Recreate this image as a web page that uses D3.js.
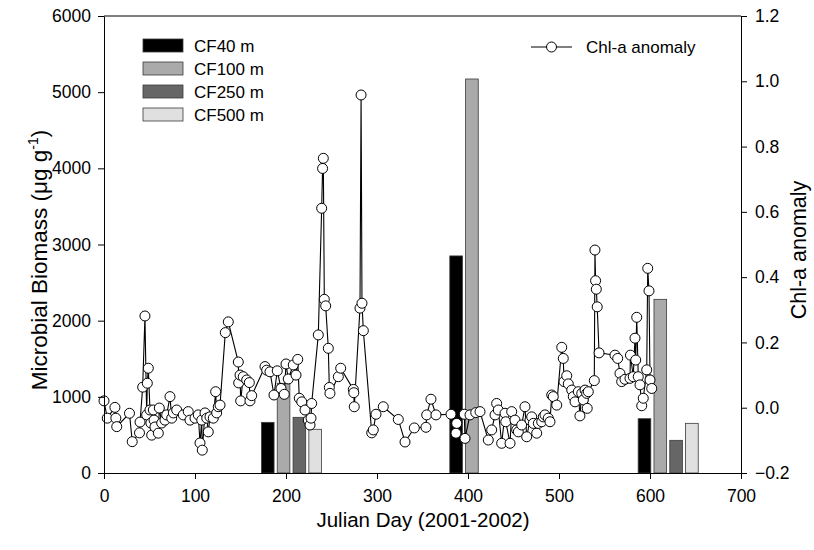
<!DOCTYPE html>
<html>
<head>
<meta charset="utf-8">
<script src="https://cdn.jsdelivr.net/npm/d3@7"></script>
<style>
  html, body { margin: 0; padding: 0; background: #fff; }
  svg { display: block; font-family: Arial, "Liberation Sans", sans-serif; }
</style>
</head>
<body>
<svg id="chart" width="814" height="550"></svg>
<script>
// ---------- data ----------
const xTicks = [0, 100, 200, 300, 400, 500, 600, 700];
const leftTicks = [0, 1000, 2000, 3000, 4000, 5000, 6000];
const rightTicks = [-0.2, 0.0, 0.2, 0.4, 0.6, 0.8, 1.0, 1.2];

const barSeries = ["CF40 m", "CF100 m", "CF250 m", "CF500 m"];
const barColors = ["#000000", "#aaaaaa", "#666666", "#e0e0e0"];
const groupDays = [206, 413, 620];           // centre day of each sampling group
const groupSpanDays = 66;                     // width of a group in days
const cf40 = [665, 2850, 713];
const cf100 = [1178, 5173, 2280];
const cf250 = [731, null, 429];
const cf500 = [574, null, 652];

const chlDays = [
  0, 3.6, 12, 13, 14, 28, 31, 39, 39.6, 42.5, 45, 46.9, 47.6, 48.7, 50.5, 51.5, 52.4, 54.2, 55, 56,
  59.7, 60.8, 63.4, 67, 68.9, 72.5, 74.4, 76.2, 79.9, 87.1, 92.6, 94.5, 100, 103.6, 105.5, 107.4, 108,
  111, 112.9, 114.6, 116.5, 120.1, 122.7, 123.8, 125.6, 127.5, 133.3, 136.6, 147.6, 148, 149.5, 150.2,
  153, 156.8, 159.7, 160.4, 162.3,
  176.9, 178.8, 182.4, 186.8, 190.4, 194.5, 198.1, 200, 202.5, 208, 211, 212.9, 214.6, 217.3, 220.9,
  224.5, 226.4, 227.5, 228.2, 235.5, 239.2, 240.2, 241, 242.1, 243.6, 246.5, 247.6, 248.3, 257.5, 260.1,
  274, 274.5, 275, 281.3, 282.5, 283.5, 285, 294.2, 295.9, 298.9, 306.9, 323.4, 330.8, 341,
  353.8, 354.6, 359.3, 364.8, 381.3, 386.8, 387.6, 395.9, 396.7, 402.2, 408.5, 413.2, 422.3, 426, 429.7,
  431.5, 433.3, 437, 440.7, 441.5, 446.2, 448, 451.6, 453.5, 455.3, 459, 462.6, 464.5, 468.1, 470,
  471.8, 475.5, 477.3, 481, 482.7, 484.6, 488.2, 490.1, 492, 493.7, 497.5, 503, 504.7, 505.5, 508.5,
  510.2, 514, 515.7, 517.6, 521.2, 523, 525, 526.7, 528.6, 530.4, 531, 532.2, 538.8, 539.5, 540.2,
  541, 542, 544,
  561.5, 564.5, 567, 568.9, 572.5, 578, 578.5, 581.6, 583.5, 584.3, 585.4, 587.1, 589, 590.9, 592.6,
  596.4, 597.5, 598.9, 600, 601.9
];
const chlValues = [
  0.021, -0.032, 0.001, -0.032, -0.058, -0.017, -0.104, -0.077, -0.044, 0.063, 0.281, -0.022, 0.075, 0.121, -0.007, -0.047, -0.084, -0.007, -0.038, -0.059,
  -0.078, -0.001, -0.047, -0.038, -0.022, 0.034, -0.032, -0.016, -0.007, -0.022, -0.012, -0.038, -0.032, -0.022, -0.108, -0.038, -0.130,
  -0.016, -0.032, -0.074, -0.028, -0.032, 0.049, -0.016, 0.003, 0.008, 0.230, 0.263, 0.140, 0.076, 0.100, 0.021,
  0.095, 0.085, 0.077, 0.021, 0.037,
  0.126, 0.115, 0.110, 0.039, 0.113, 0.059, 0.041, 0.134, 0.088, 0.131, 0.100, 0.148, 0.029, 0.018, -0.007,
  -0.038, -0.053, -0.032, 0.013, 0.223, 0.611, 0.733, 0.764, 0.332, 0.312, 0.182, 0.062, 0.044, 0.095, 0.121,
  0.056, 0.046, 0.003, 0.305, 0.958, 0.320, 0.236, -0.077, -0.068, -0.020, 0.003, -0.036, -0.105, -0.062,
  -0.060, -0.022, 0.026, -0.022, -0.020, -0.078, -0.048, -0.020, -0.094, -0.022, -0.015, -0.012, -0.099, -0.068, -0.022,
  0.013, -0.007, -0.109, -0.017, -0.043, -0.109, -0.012, -0.038, -0.068, -0.074, -0.053, 0.003, -0.089, -0.038, -0.028,
  -0.048, -0.078, -0.048, -0.043, -0.028, -0.022, -0.032, -0.043, 0.039, 0.034, 0.008, 0.185, 0.151, 0.080, 0.098,
  0.073, 0.054, 0.034, 0.018, 0.049, -0.025, 0.044, 0.024, 0.054, 0.044, -0.002, 0.049, 0.083, 0.483, 0.389,
  0.363, 0.309, 0.168,
  0.161, 0.151, 0.105, 0.080, 0.087, 0.090, 0.161, 0.095, 0.213, 0.146, 0.277, 0.095, 0.070, 0.006, 0.029,
  0.116, 0.427, 0.358, 0.085, 0.059
];

// ---------- layout ----------
const svg = d3.select("#chart");
const margin = { left: 104, top: 16, right: 73, bottom: 77 };
const W = 814 - margin.left - margin.right;
const H = 550 - margin.top - margin.bottom;
const g = svg.append("g").attr("transform", `translate(${margin.left},${margin.top})`);

const x = d3.scaleLinear().domain([0, 700]).range([0, W]);
const yL = d3.scaleLinear().domain([0, 6000]).range([H, 0]);
const yR = d3.scaleLinear().domain([-0.2, 1.2]).range([H, 0]);

// frame top line
g.append("line").attr("x1", 0).attr("x2", W).attr("y1", 0).attr("y2", 0)
  .attr("stroke", "#000").attr("stroke-width", 1);

// ---------- bars ----------
const barTable = [cf40, cf100, cf250, cf500];
const inner = d3.scaleBand().domain(barSeries)
  .range([0, x(groupSpanDays) - x(0)]).paddingInner(0.2);
const barData = [];
groupDays.forEach((day, gi) => {
  barSeries.forEach((s, si) => {
    const v = barTable[si][gi];
    if (v != null) barData.push({ day, s, si, v });
  });
});
g.append("g").selectAll("rect").data(barData).join("rect")
  .attr("x", d => x(d.day) - (x(groupSpanDays) - x(0)) / 2 + inner(d.s))
  .attr("width", inner.bandwidth())
  .attr("y", d => yL(d.v))
  .attr("height", d => yL(0) - yL(d.v))
  .attr("fill", d => barColors[d.si])
  .attr("stroke", "#3a3a3a").attr("stroke-width", 0.8);

// ---------- chl-a line ----------
const chl = chlDays.map((d, i) => ({ d, v: chlValues[i] }));
g.append("path").datum(chl)
  .attr("fill", "none").attr("stroke", "#000").attr("stroke-width", 1.1)
  .attr("d", d3.line().x(p => x(p.d)).y(p => yR(p.v)));
g.append("g").selectAll("circle").data(chl).join("circle")
  .attr("cx", p => x(p.d)).attr("cy", p => yR(p.v)).attr("r", 5)
  .attr("fill", "#fff").attr("stroke", "#000").attr("stroke-width", 1);

// ---------- axes ----------
const fontTick = "17.5px";
const xAxis = g.append("g").attr("transform", `translate(0,${H})`)
  .call(d3.axisBottom(x).tickValues(xTicks).tickSize(6).tickSizeOuter(0).tickFormat(d3.format("d")));
const lAxis = g.append("g")
  .call(d3.axisLeft(yL).tickValues(leftTicks).tickSize(6).tickSizeOuter(0).tickFormat(d3.format("d")));
const rAxis = g.append("g").attr("transform", `translate(${W},0)`)
  .call(d3.axisRight(yR).tickValues(rightTicks).tickSize(6).tickSizeOuter(0).tickFormat(d3.format(".1f")));
[xAxis, lAxis, rAxis].forEach(a => {
  a.select(".domain").attr("stroke", "#000").attr("stroke-width", 1);
  a.selectAll(".tick line").attr("stroke", "#000");
  a.selectAll(".tick text").attr("fill", "#000").style("font-size", fontTick)
    .style("font-family", "Arial, 'Liberation Sans', sans-serif");
});
xAxis.selectAll(".tick text").attr("y", 17);
lAxis.selectAll(".tick text").attr("x", -13);
rAxis.selectAll(".tick text").attr("x", 14);

// ---------- axis titles ----------
svg.append("text")
  .attr("x", 423).attr("y", 527)
  .attr("text-anchor", "middle").style("font-size", "20.5px")
  .text("Julian Day (2001-2002)");

const lt = svg.append("text")
  .attr("transform", `translate(47,260) rotate(-90)`)
  .attr("text-anchor", "middle").style("font-size", "22.5px");
lt.append("tspan").text("Microbial Biomass (\u03BCg g");
lt.append("tspan").attr("dy", -9).style("font-size", "14px").text("-1");
lt.append("tspan").attr("dy", 9).text(")");

svg.append("text")
  .attr("transform", `translate(806,250) rotate(-90)`)
  .attr("text-anchor", "middle").style("font-size", "21.5px")
  .text("Chl-a anomaly");

// ---------- legends ----------
const leg = svg.append("g").attr("transform", "translate(143,39)");
barSeries.forEach((s, i) => {
  leg.append("rect").attr("x", 0).attr("y", i * 23).attr("width", 40).attr("height", 13)
    .attr("fill", barColors[i]).attr("stroke", "#3a3a3a").attr("stroke-width", 0.8);
  leg.append("text").attr("x", 51).attr("y", i * 23 + 13)
    .style("font-size", "17px").text(s);
});

const leg2 = svg.append("g").attr("transform", "translate(531,47)");
leg2.append("line").attr("x1", 0).attr("x2", 41).attr("y1", 0).attr("y2", 0)
  .attr("stroke", "#000").attr("stroke-width", 1.1);
leg2.append("circle").attr("cx", 20.5).attr("cy", 0).attr("r", 5)
  .attr("fill", "#fff").attr("stroke", "#000");
leg2.append("text").attr("x", 55).attr("y", 6).style("font-size", "17px").text("Chl-a anomaly");
</script>
</body>
</html>
